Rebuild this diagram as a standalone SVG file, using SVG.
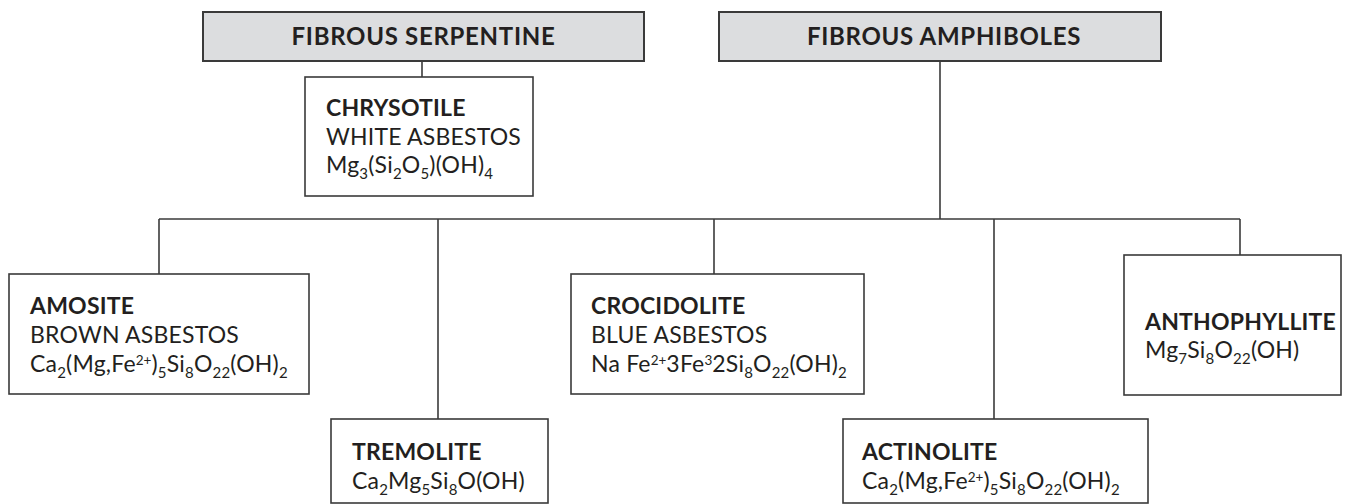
<svg xmlns="http://www.w3.org/2000/svg" width="1354" height="504" viewBox="0 0 1354 504">
<style>
.hdr{fill:#dcdddf;stroke:#3a3a3a;stroke-width:2}
.box{fill:#ffffff;stroke:#3a3a3a;stroke-width:1.6}
.ln{stroke:#3a3a3a;stroke-width:1.6;fill:none}
text{font-family:Lato,"Open Sans",sans-serif;fill:#231f20;font-size:23px;letter-spacing:0.2px}
.b{font-weight:bold;font-size:23px;letter-spacing:0.2px}
.h{font-weight:bold;font-size:24px;letter-spacing:0.7px;text-anchor:middle}
.s{font-size:15px;letter-spacing:0.2px}
.p{font-size:13.5px;letter-spacing:0}
</style>
<rect width="1354" height="504" fill="#ffffff"/>
<g id="connectors">
<line class="ln" x1="422" y1="61" x2="422" y2="77"/>
<line class="ln" x1="940" y1="61" x2="940" y2="219"/>
<line class="ln" x1="159" y1="219" x2="1240" y2="219"/>
<line class="ln" x1="159" y1="219" x2="159" y2="274"/>
<line class="ln" x1="438" y1="219" x2="438" y2="419"/>
<line class="ln" x1="714" y1="219" x2="714" y2="274"/>
<line class="ln" x1="994" y1="219" x2="994" y2="419"/>
<line class="ln" x1="1240" y1="219" x2="1240" y2="255"/>
</g>
<g id="fibrous-serpentine">
<rect class="hdr" x="203" y="12" width="441" height="49"/>
<text class="h" x="423.5" y="45">FIBROUS SERPENTINE</text>
</g>
<g id="fibrous-amphiboles">
<rect class="hdr" x="719" y="12" width="442" height="49"/>
<text class="h" x="944" y="45">FIBROUS AMPHIBOLES</text>
</g>
<g id="chrysotile">
<rect class="box" x="305" y="77" width="228" height="119"/>
<text class="b" x="326" y="116">CHRYSOTILE</text>
<text x="326" y="145">WHITE ASBESTOS</text>
<text x="326" y="173">Mg<tspan class="s" dy="6">3</tspan><tspan dy="-6">(Si</tspan><tspan class="s" dy="6">2</tspan><tspan dy="-6">O</tspan><tspan class="s" dy="6">5</tspan><tspan dy="-6">)(OH)</tspan><tspan class="s" dy="6">4</tspan></text>
</g>
<g id="amosite">
<rect class="box" x="9" y="274" width="300" height="120"/>
<text class="b" x="30" y="314">AMOSITE</text>
<text x="30" y="343">BROWN ASBESTOS</text>
<text x="30" y="372">Ca<tspan class="s" dy="6">2</tspan><tspan dy="-6">(Mg,Fe</tspan><tspan class="p" dy="-7">2+</tspan><tspan dy="7">)</tspan><tspan class="s" dy="6">5</tspan><tspan dy="-6">Si</tspan><tspan class="s" dy="6">8</tspan><tspan dy="-6">O</tspan><tspan class="s" dy="6">22</tspan><tspan dy="-6">(OH)</tspan><tspan class="s" dy="6">2</tspan></text>
</g>
<g id="crocidolite">
<rect class="box" x="571" y="274" width="293" height="120"/>
<text class="b" x="591" y="314">CROCIDOLITE</text>
<text x="591" y="343">BLUE ASBESTOS</text>
<text x="591" y="372">Na Fe<tspan class="p" dy="-7">2+</tspan><tspan dy="7">3Fe</tspan><tspan class="p" dy="-7">3</tspan><tspan dy="7">2Si</tspan><tspan class="s" dy="6">8</tspan><tspan dy="-6">O</tspan><tspan class="s" dy="6">22</tspan><tspan dy="-6">(OH)</tspan><tspan class="s" dy="6">2</tspan></text>
</g>
<g id="anthophyllite">
<rect class="box" x="1124" y="255" width="217" height="140"/>
<text class="b" x="1145" y="330">ANTHOPHYLLITE</text>
<text x="1145" y="358">Mg<tspan class="s" dy="6">7</tspan><tspan dy="-6">Si</tspan><tspan class="s" dy="6">8</tspan><tspan dy="-6">O</tspan><tspan class="s" dy="6">22</tspan><tspan dy="-6">(OH)</tspan></text>
</g>
<g id="tremolite">
<rect class="box" x="331" y="419" width="217" height="84"/>
<text class="b" x="352" y="460">TREMOLITE</text>
<text x="352" y="489">Ca<tspan class="s" dy="6">2</tspan><tspan dy="-6">Mg</tspan><tspan class="s" dy="6">5</tspan><tspan dy="-6">Si</tspan><tspan class="s" dy="6">8</tspan><tspan dy="-6">O(OH)</tspan></text>
</g>
<g id="actinolite">
<rect class="box" x="843" y="419" width="305" height="84"/>
<text class="b" x="862" y="460">ACTINOLITE</text>
<text x="862" y="489">Ca<tspan class="s" dy="6">2</tspan><tspan dy="-6">(Mg,Fe</tspan><tspan class="p" dy="-7">2+</tspan><tspan dy="7">)</tspan><tspan class="s" dy="6">5</tspan><tspan dy="-6">Si</tspan><tspan class="s" dy="6">8</tspan><tspan dy="-6">O</tspan><tspan class="s" dy="6">22</tspan><tspan dy="-6">(OH)</tspan><tspan class="s" dy="6">2</tspan></text>
</g>
</svg>
